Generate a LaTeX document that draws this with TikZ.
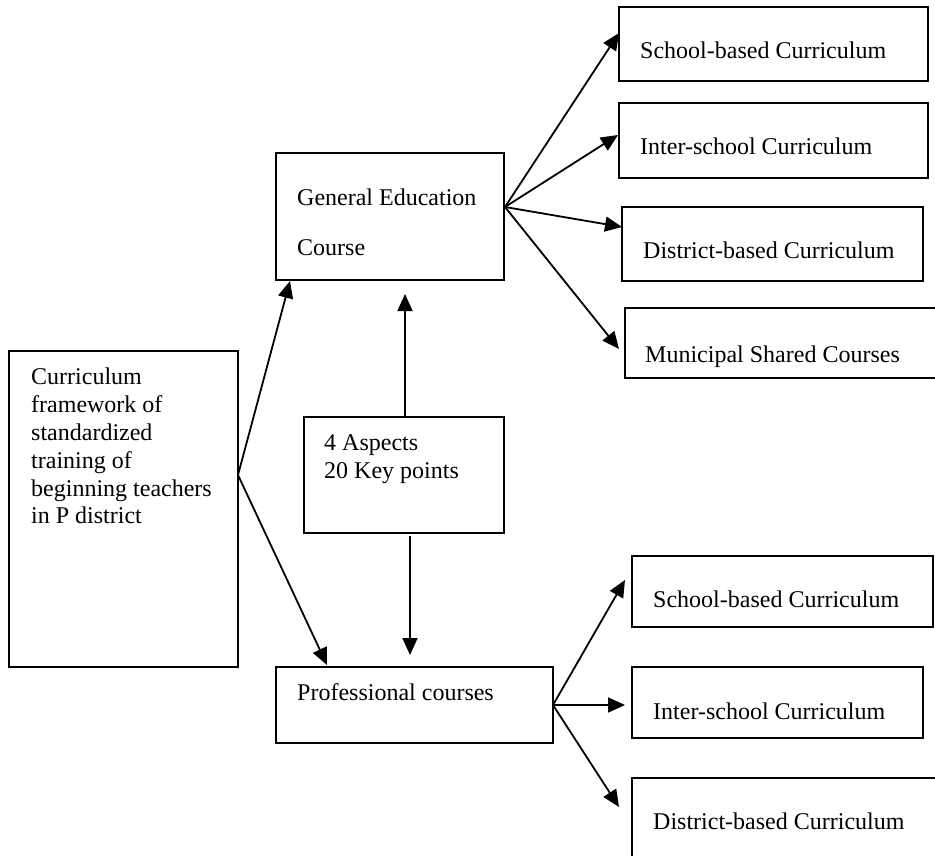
\documentclass[tikz,border=0pt]{standalone}
\usepackage{fontspec}
\setmainfont{Liberation Serif}
\usetikzlibrary{arrows.meta}
\begin{document}
\begin{tikzpicture}[x=1pt,y=-1pt,
  box/.style={draw, line width=2pt, rectangle, inner sep=0pt, outer sep=0pt},
  lbl/.style={anchor=base west, inner sep=0pt, font=\fontsize{24}{27.8}\selectfont},
  conn/.style={line width=1.8pt, -{Triangle[length=17pt,width=15pt]}},
]
\useasboundingbox (0,0) rectangle (935,856);

% boxes
\node[box, minimum width=229pt, minimum height=316pt] (frame) at (123.5,509) {};
\node[box, minimum width=228pt, minimum height=127pt] (ge) at (390,216.5) {};
\node[box, minimum width=200pt, minimum height=116pt] (asp) at (404,475) {};
\node[box, minimum width=277pt, minimum height=76pt] (prof) at (414.5,705) {};
\node[box, minimum width=309pt, minimum height=74pt] (s1) at (773.5,44) {};
\node[box, minimum width=309pt, minimum height=75pt] (i1) at (773.5,140.5) {};
\node[box, minimum width=301pt, minimum height=74pt] (d1) at (772.5,244) {};
\node[box, minimum width=320pt, minimum height=70pt] (m1) at (785,343) {};
\node[box, minimum width=301pt, minimum height=71pt] (s2) at (782.5,591.5) {};
\node[box, minimum width=291pt, minimum height=71pt] (i2) at (777.5,702.5) {};
\node[box, minimum width=313pt, minimum height=92pt] (d2) at (788.5,824) {};

% texts
\node[lbl, anchor=north west, align=left] (frametxt) at (31,368)
  {Curriculum\\framework of\\standardized\\training of\\beginning teachers\\in P district};
\node[lbl] (getxt1) at (297,205) {General Education};
\node[lbl] (getxt2) at (297,255) {Course};
\node[lbl] (asptxt1) at (324,450) {4 Aspects};
\node[lbl] (asptxt2) at (324,478) {20 Key points};
\node[lbl] (proftxt) at (297,700) {Professional courses};
\node[lbl] (s1txt) at (640,59) {School-based Curriculum};
\node[lbl] (i1txt) at (640,155) {Inter-school Curriculum};
\node[lbl] (d1txt) at (643,258) {District-based Curriculum};
\node[lbl] (m1txt) at (645,362) {Municipal Shared Courses};
\node[lbl] (s2txt) at (653,607) {School-based Curriculum};
\node[lbl] (i2txt) at (653,719) {Inter-school Curriculum};
\node[lbl] (d2txt) at (653,829) {District-based Curriculum};

% connector end points
\coordinate (fout) at (238,475);
\coordinate (gein) at (290,281);
\coordinate (profin) at (327,665);
\coordinate (geout) at (505,207);
\coordinate (s1in) at (619,33);
\coordinate (i1in) at (618,135);
\coordinate (d1in) at (622,227);
\coordinate (m1in) at (619,349);
\coordinate (aspup) at (405,417);
\coordinate (geup) at (405,294);
\coordinate (aspdown) at (410,536);
\coordinate (profdown) at (410,655);
\coordinate (pout) at (553,705);
\coordinate (s2in) at (625,580);
\coordinate (i2in) at (625,705);
\coordinate (d2in) at (619,807);

% connectors
\draw[conn] (fout) -- (gein);
\draw[conn] (fout) -- (profin);
\draw[conn] (geout) -- (s1in);
\draw[conn] (geout) -- (i1in);
\draw[conn] (geout) -- (d1in);
\draw[conn] (geout) -- (m1in);
\draw[conn] (aspup) -- (geup);
\draw[conn] (aspdown) -- (profdown);
\draw[conn] (pout) -- (s2in);
\draw[conn] (pout) -- (i2in);
\draw[conn] (pout) -- (d2in);
\end{tikzpicture}
\end{document}
